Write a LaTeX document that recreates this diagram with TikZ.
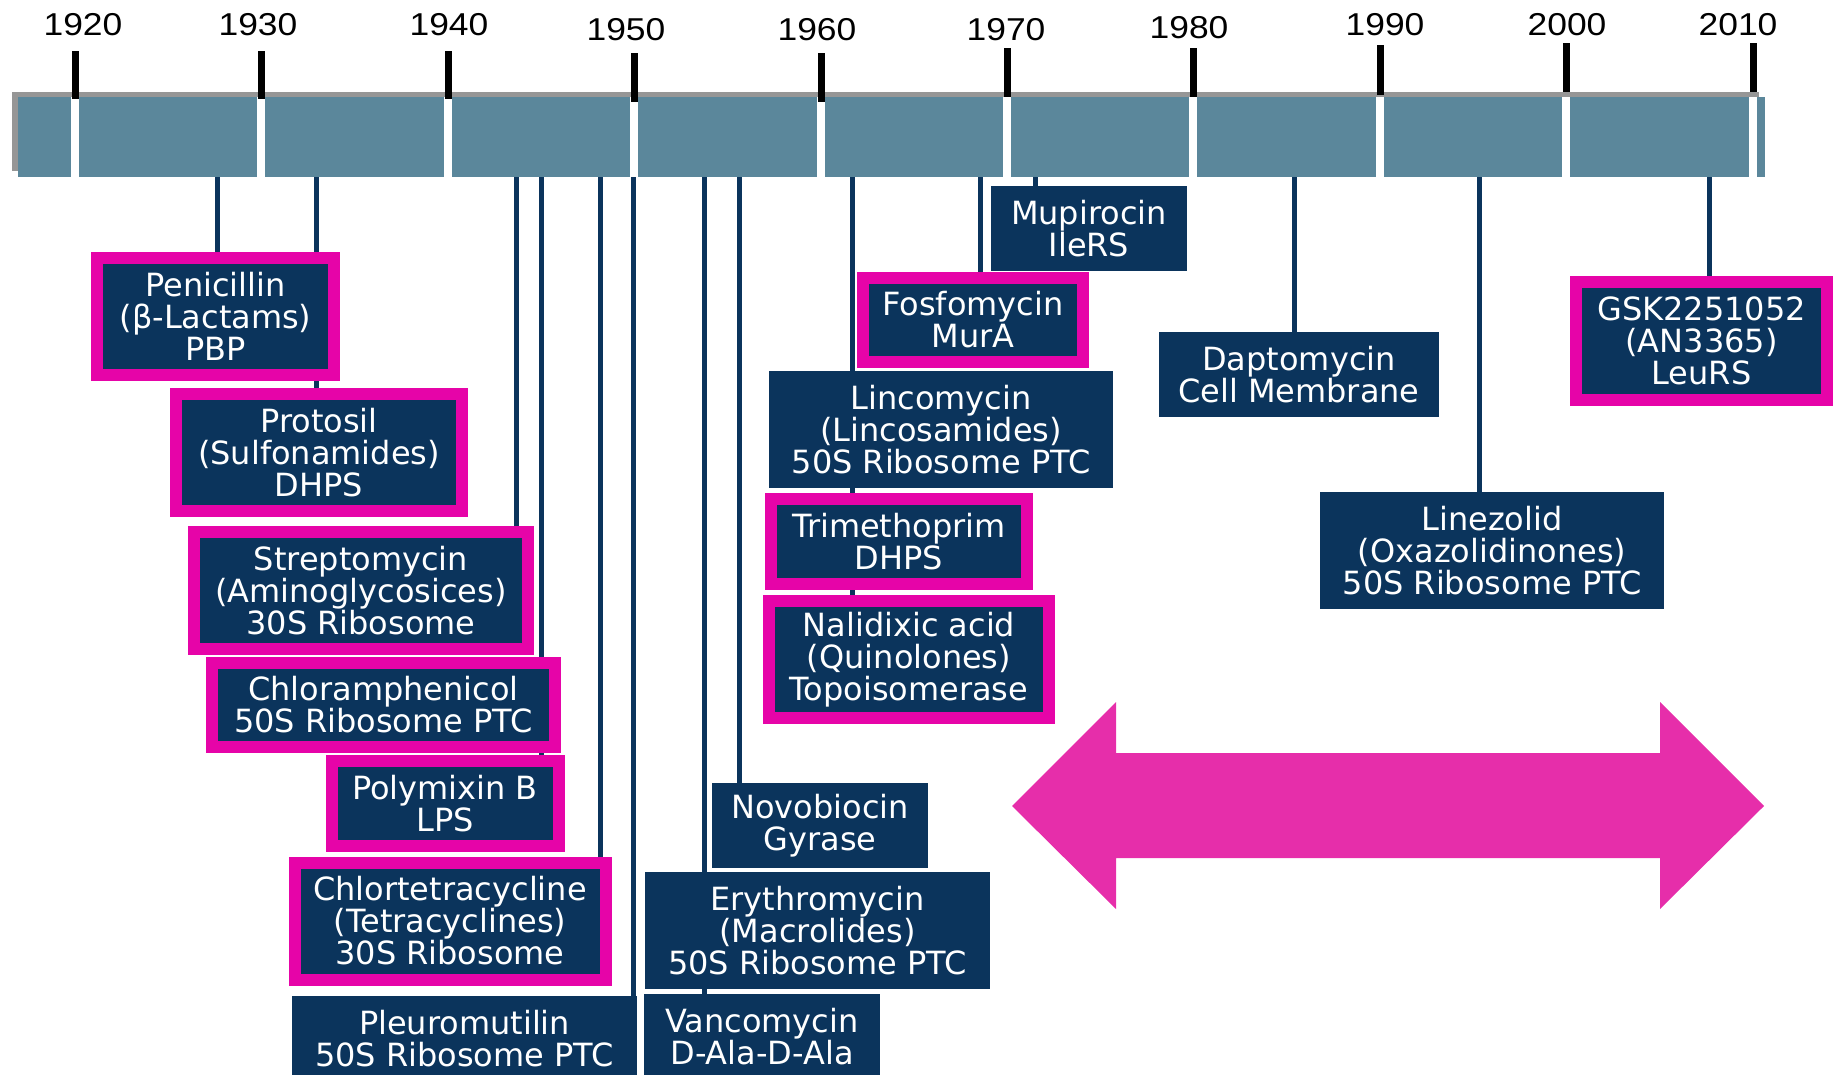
\documentclass[tikz,border=0pt]{standalone}
\usepackage{fontspec}
\usetikzlibrary{backgrounds}
\newfontfamily\drugfont{DejaVu Sans}
\newfontfamily\yearfont[FakeStretch=1.12]{Liberation Sans}
\definecolor{navy}{RGB}{11,52,92}
\definecolor{framepink}{RGB}{230,4,168}
\definecolor{arrowpink}{RGB}{230,46,170}
\definecolor{barblue}{RGB}{91,135,155}
\definecolor{shadowgray}{RGB}{150,150,150}
\begin{document}
\begin{tikzpicture}[x=0.02cm, y=-0.02cm,
    drug/.style = {fill=navy, text=white, align=center, inner sep=0pt, outer sep=0pt,
                   font=\drugfont\fontsize{18.2}{18.2}\selectfont},
    hit/.style = {drug, draw=framepink, line width=0.24cm},
    dims/.style 2 args = {minimum width=#1*0.02cm, minimum height=#2*0.02cm},
    link/.style = {draw=navy, line width=0.1cm},
    tick/.style = {draw=black, line width=0.14cm},
    year/.style = {anchor=base, font=\yearfont\fontsize{18}{18}\selectfont}]
    \useasboundingbox (0,0) rectangle (1839,1075);

    % timeline bar
    \fill[shadowgray] (12,92) rectangle (1759,171);
    \fill[barblue] (18,97) rectangle (1765,177);
    \foreach \x in {75,261,448,634,821,1007,1193,1380,1566,1753}
        \fill[white] (\x-4,97) rectangle (\x+4,177);
    \foreach \x/\t/\b in {75/51/99, 261/51/99, 448/51/99, 634/53/102, 821/53/102,
                          1007/48/97, 1193/48/97, 1380/45/95, 1566/43/92, 1753/43/92}
        \draw[tick] (\x,\t) -- (\x,\b);
    \foreach \yr/\x/\y in {1920/83/35, 1930/258/35, 1940/449/35, 1950/626/40, 1960/817/40,
                           1970/1006/40, 1980/1189/38, 1990/1385/35, 2000/1567/35, 2010/1738/35}
        \node[year] (y\yr) at (\x,\y) {\yr};

    \node[hit, dims={237}{117}]  (pen)  at (215.5,316.5) {Penicillin\\(β-Lactams)\\PBP};
    \node[hit, dims={286}{117}]  (pro)  at (319,452.5)   {Protosil\\(Sulfonamides)\\DHPS};
    \node[hit, dims={334}{117}]  (str)  at (361,590.5)   {Streptomycin\\(Aminoglycosices)\\30S Ribosome};
    \node[hit, dims={343}{84}]   (chl)  at (383.5,705)   {Chloramphenicol\\50S Ribosome PTC};
    \node[hit, dims={227}{85}]   (pol)  at (445,803.5)   {Polymixin B\\LPS};
    \node[hit, dims={311}{117}]  (chlt) at (450,921)     {Chlortetracycline\\(Tetracyclines)\\30S Ribosome};
    \node[drug, dims={345}{85}]  (ple)  at (464.5,1038.5) {Pleuromutilin\\50S Ribosome PTC};
    \node[drug, dims={236}{85}]  (van)  at (762,1036.5)  {Vancomycin\\D-Ala-D-Ala};
    \node[drug, dims={345}{117}] (ery)  at (817.5,930.5) {Erythromycin\\(Macrolides)\\50S Ribosome PTC};
    \node[drug, dims={216}{85}]  (nov)  at (820,825.5)   {Novobiocin\\Gyrase};
    \node[hit, dims={280}{117}]  (nal)  at (909,659.5)   {Nalidixic acid\\(Quinolones)\\Topoisomerase};
    \node[hit, dims={256}{85}]   (tri)  at (899,541.5)   {Trimethoprim\\DHPS};
    \node[drug, dims={344}{117}] (lin)  at (941,429.5)   {Lincomycin\\(Lincosamides)\\50S Ribosome PTC};
    \node[hit, dims={220}{84}]   (fos)  at (973,320)     {Fosfomycin\\MurA};
    \node[drug, dims={196}{85}]  (mup)  at (1089,228.5)  {Mupirocin\\IleRS};
    \node[drug, dims={280}{85}]  (dap)  at (1299,374.5)  {Daptomycin\\Cell Membrane};
    \node[drug, dims={344}{117}] (lzd)  at (1492,550.5)  {Linezolid\\(Oxazolidinones)\\50S Ribosome PTC};
    \node[hit, dims={251}{118}]  (gsk)  at (1701.5,341)  {GSK2251052\\(AN3365)\\LeuRS};

    \begin{pgfonlayer}{background}
    \foreach \x/\n in {217/pen, 316/pro, 516/str, 541/chl, 541/pol, 600/chlt, 633/ple,
                       704/ery, 704/van, 739/nov, 852/lin, 852/tri, 852/nal,
                       980/fos, 1035/mup, 1294/dap, 1479/lzd, 1709/gsk}
        \draw[link] (\x,176) coordinate (c-\n) -- (c-\n |- \n.north);
    \end{pgfonlayer}

    \fill[arrowpink] (1012,806) -- (1116,702) -- (1116,753) -- (1660,753) -- (1660,702)
        -- (1764,806) -- (1660,909) -- (1660,858) -- (1116,858) -- (1116,909) -- cycle;
\end{tikzpicture}
\end{document}
